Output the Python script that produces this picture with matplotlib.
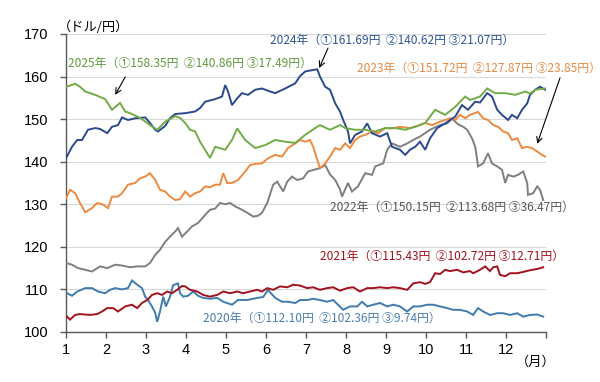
import matplotlib
matplotlib.use("Agg")
import matplotlib.pyplot as plt

# ---------------- data (x = month position, y = JPY per USD) ----------------
x_2025 = [1.0, 1.23, 1.35, 1.48, 1.73, 1.98, 2.15, 2.35, 2.48, 2.6, 2.85, 3.1, 3.28, 3.48, 3.73, 3.85, 3.98,
          4.1, 4.23, 4.35, 4.6, 4.73, 4.98, 5.15, 5.28, 5.48, 5.73, 5.98, 6.23, 6.48, 6.73, 6.98, 7.23, 7.35,
          7.6, 7.85, 7.98, 8.23, 8.48, 8.73, 8.98, 9.23, 9.48, 9.73, 9.98, 10.23, 10.48, 10.73, 10.98, 11.1,
          11.35, 11.53, 11.73, 11.98, 12.23, 12.48, 12.6, 12.73, 12.98]
y_2025 = [157.6, 158.3, 157.6, 156.5, 155.7, 154.7, 152.2, 153.8, 151.8, 151.4, 150.3, 148.6, 147.5, 149.4,
          150.7, 150.3, 149.1, 147.5, 147.1, 144.7, 140.9, 143.5, 142.8, 145.1, 147.8, 145.1, 143.2, 143.9,
          145.1, 144.7, 144.4, 146.3, 147.9, 148.6, 147.5, 148.6, 147.9, 147.5, 147.5, 147.1, 147.9, 147.9,
          147.5, 148.2, 149.1, 152.2, 151.0, 152.9, 155.3, 154.5, 155.3, 157.2, 156.1, 156.1, 155.7, 156.5,
          156.0, 156.9, 157.2]

x_2024 = [1.0, 1.15, 1.28, 1.4, 1.55, 1.73, 1.85, 2.03, 2.15, 2.3, 2.4, 2.55, 2.73, 2.98, 3.1, 3.23, 3.3, 3.48,
          3.6, 3.73, 3.98, 4.23, 4.35, 4.48, 4.73, 4.9, 4.98, 5.05, 5.15, 5.28, 5.4, 5.55, 5.73, 5.9, 6.1,
          6.23, 6.48, 6.73, 6.85, 6.98, 7.15, 7.28, 7.35, 7.48, 7.6, 7.73, 7.85, 7.93, 8.05, 8.1, 8.23, 8.4,
          8.53, 8.65, 8.85, 9.03, 9.15, 9.35, 9.48, 9.6, 9.73, 9.85, 9.98, 10.1, 10.28, 10.48, 10.73, 10.9,
          11.05, 11.23, 11.35, 11.53, 11.65, 11.78, 11.9, 12.05, 12.15, 12.28, 12.4, 12.53, 12.6, 12.73,
          12.85, 12.98]
y_2024 = [140.8, 143.5, 145.1, 145.1, 147.5, 147.9, 147.7, 146.7, 148.2, 148.6, 150.4, 149.8, 150.2, 150.4,
          149.1, 147.5, 147.1, 148.4, 150.2, 151.2, 151.4, 151.8, 152.6, 154.1, 154.7, 155.3, 158.0, 156.5,
          153.3, 154.9, 156.1, 155.7, 156.9, 157.2, 156.5, 156.1, 157.2, 158.4, 160.1, 161.2, 161.5, 161.7,
          160.0, 157.6, 156.9, 153.7, 151.8, 149.8, 147.1, 144.3, 146.3, 147.1, 149.0, 146.7, 145.9, 146.7,
          143.5, 142.8, 141.6, 142.8, 143.5, 144.7, 142.8, 145.5, 147.9, 149.0, 150.6, 153.3, 152.2, 154.1,
          153.9, 156.1, 155.3, 152.2, 151.0, 149.8, 151.0, 150.2, 152.2, 153.7, 155.7, 156.9, 157.6, 156.9]

x_2023 = [1.0, 1.1, 1.23, 1.35, 1.48, 1.65, 1.78, 1.93, 2.05, 2.15, 2.3, 2.4, 2.55, 2.73, 2.85, 2.98, 3.1,
          3.23, 3.35, 3.48, 3.6, 3.73, 3.85, 3.98, 4.1, 4.23, 4.35, 4.48, 4.6, 4.73, 4.85, 4.93, 5.03, 5.15,
          5.3, 5.48, 5.6, 5.73, 5.9, 6.05, 6.23, 6.4, 6.55, 6.73, 6.85, 6.98, 7.1, 7.18, 7.28, 7.35, 7.48,
          7.6, 7.73, 7.85, 7.98, 8.1, 8.23, 8.35, 8.48, 8.65, 8.8, 8.98, 9.15, 9.35, 9.6, 9.85, 9.98, 10.15,
          10.35, 10.48, 10.6, 10.73, 10.85, 10.98, 11.1, 11.3, 11.43, 11.55, 11.68, 11.8, 11.93, 12.05,
          12.15, 12.28, 12.4, 12.53, 12.65, 12.78, 12.9, 12.98]
y_2023 = [131.4, 133.4, 132.6, 130.3, 128.1, 129.1, 130.3, 129.9, 129.1, 131.8, 131.8, 132.6, 134.6, 135.0,
          136.1, 136.5, 137.3, 135.7, 133.4, 133.0, 131.8, 131.0, 131.2, 133.0, 131.8, 132.6, 133.0, 134.2,
          134.0, 134.6, 134.6, 137.3, 135.0, 135.0, 135.7, 137.7, 139.2, 139.5, 139.6, 140.8, 141.6, 141.2,
          143.2, 144.3, 145.1, 144.7, 145.1, 143.5, 140.5, 138.5, 139.6, 141.2, 143.2, 142.8, 144.3, 143.2,
          145.1, 145.9, 146.3, 147.1, 146.7, 147.9, 147.8, 148.2, 147.9, 148.6, 149.1, 148.6, 149.4, 149.8,
          150.2, 149.8, 151.0, 150.2, 151.0, 151.7, 150.2, 149.8, 148.6, 148.2, 147.1, 146.7, 145.1, 145.5,
          143.2, 143.5, 143.2, 142.4, 141.6, 141.2]

x_2022 = [1.0, 1.15, 1.3, 1.48, 1.65, 1.85, 2.03, 2.23, 2.4, 2.6, 2.78, 2.98, 3.1, 3.23, 3.35, 3.48, 3.6,
          3.73, 3.8, 3.9, 4.03, 4.15, 4.3, 4.48, 4.6, 4.73, 4.85, 4.98, 5.1, 5.23, 5.4, 5.55, 5.68, 5.8, 5.9,
          6.03, 6.18, 6.28, 6.43, 6.53, 6.65, 6.78, 6.93, 7.05, 7.35, 7.48, 7.6, 7.73, 7.85, 7.9, 8.05, 8.15,
          8.3, 8.48, 8.65, 8.73, 8.93, 9.03, 9.15, 9.35, 9.53, 9.68, 9.85, 10.1, 10.35, 10.53, 10.65, 10.8,
          10.93, 11.03, 11.15, 11.23, 11.28, 11.3, 11.43, 11.55, 11.65, 11.78, 11.9, 11.98, 12.05, 12.18,
          12.3, 12.43, 12.53, 12.55, 12.68, 12.78, 12.85, 12.93]
y_2022 = [116.2, 115.8, 115.0, 114.6, 114.2, 115.4, 115.0, 115.8, 115.6, 115.2, 115.4, 115.4, 116.2, 118.1,
          119.3, 121.2, 122.4, 123.6, 124.4, 122.4, 123.6, 124.8, 125.6, 127.5, 128.7, 129.0, 130.3, 130.0,
          130.3, 129.5, 128.7, 127.9, 127.1, 127.3, 128.0, 130.3, 134.6, 135.3, 133.0, 135.3, 136.5, 135.7,
          136.1, 137.7, 138.5, 139.2, 137.0, 135.7, 133.5, 131.8, 135.0, 133.0, 134.2, 137.3, 136.9, 138.9,
          139.6, 142.8, 144.3, 143.5, 144.3, 145.1, 145.9, 147.5, 148.6, 149.0, 150.1, 148.8, 148.2, 147.5,
          145.5, 143.5, 140.4, 138.9, 139.6, 142.0, 139.6, 138.9, 138.1, 135.0, 136.9, 136.5, 136.9, 137.7,
          135.0, 132.2, 132.6, 134.2, 133.4, 131.0]

x_2021 = [1.03, 1.1, 1.23, 1.35, 1.6, 1.78, 1.9, 2.03, 2.18, 2.3, 2.48, 2.65, 2.78, 2.9, 3.03, 3.15, 3.28,
          3.4, 3.53, 3.65, 3.78, 3.9, 3.98, 4.1, 4.28, 4.43, 4.6, 4.78, 4.93, 5.1, 5.28, 5.43, 5.6, 5.78,
          5.9, 6.03, 6.18, 6.35, 6.53, 6.68, 6.85, 7.03, 7.18, 7.35, 7.53, 7.68, 7.85, 8.03, 8.18, 8.35,
          8.53, 8.68, 8.85, 9.03, 9.18, 9.35, 9.53, 9.68, 9.85, 9.98, 10.1, 10.23, 10.35, 10.48, 10.6,
          10.78, 10.93, 11.1, 11.18, 11.35, 11.48, 11.6, 11.68, 11.78, 11.85, 11.98, 12.1, 12.28, 12.43,
          12.6, 12.78, 12.93]
y_2021 = [103.6, 102.9, 104.0, 104.2, 104.0, 104.2, 104.8, 105.6, 105.6, 104.8, 106.0, 106.4, 105.6, 106.8,
          107.5, 108.7, 109.1, 108.7, 109.5, 109.1, 109.9, 110.8, 110.7, 109.9, 109.5, 108.7, 108.3, 108.7,
          109.5, 109.1, 109.5, 109.1, 109.5, 109.9, 109.5, 110.3, 109.9, 110.7, 110.5, 111.1, 110.9, 110.3,
          110.5, 109.9, 110.3, 110.5, 109.7, 110.3, 110.5, 109.5, 110.3, 110.3, 110.5, 110.3, 110.5, 110.3,
          109.9, 111.4, 111.7, 111.3, 111.7, 113.8, 113.6, 114.6, 114.3, 114.6, 114.0, 114.3, 113.8, 114.6,
          115.4, 114.3, 115.2, 115.4, 113.4, 113.1, 113.8, 113.8, 114.1, 114.5, 114.8, 115.2]

x_2020 = [1.03, 1.15, 1.28, 1.48, 1.65, 1.8, 1.98, 2.1, 2.23, 2.4, 2.55, 2.65, 2.78, 2.9, 2.98, 3.05, 3.15,
          3.23, 3.28, 3.35, 3.43, 3.5, 3.6, 3.68, 3.8, 3.85, 3.93, 4.05, 4.18, 4.3, 4.43, 4.6, 4.78, 4.93,
          5.15, 5.3, 5.53, 5.78, 5.93, 6.05, 6.23, 6.4, 6.55, 6.73, 6.85, 7.03, 7.18, 7.35, 7.53, 7.68, 7.8,
          7.93, 8.1, 8.28, 8.4, 8.53, 8.68, 8.85, 9.03, 9.18, 9.35, 9.53, 9.68, 9.85, 10.03, 10.18, 10.35,
          10.53, 10.68, 10.85, 11.03, 11.18, 11.3, 11.43, 11.6, 11.78, 11.93, 12.1, 12.28, 12.43, 12.6,
          12.78, 12.93]
y_2020 = [109.1, 108.5, 109.5, 110.3, 110.3, 109.5, 109.1, 109.9, 110.3, 110.0, 110.3, 112.1, 111.1, 110.3,
          108.3, 107.5, 106.0, 104.5, 102.4, 104.8, 108.3, 106.0, 108.3, 111.0, 111.4, 109.1, 108.3, 108.5,
          109.5, 108.5, 108.0, 107.8, 108.0, 107.1, 106.4, 107.5, 107.5, 108.0, 108.2, 109.9, 108.0, 107.1,
          107.1, 106.8, 107.5, 107.5, 107.8, 107.5, 107.1, 107.5, 106.4, 105.2, 106.0, 106.0, 107.1, 106.0,
          106.4, 106.8, 106.0, 106.4, 106.0, 104.8, 106.0, 106.0, 106.4, 106.4, 106.0, 105.6, 105.2, 105.2,
          104.8, 104.0, 105.6, 104.8, 104.0, 104.4, 104.4, 104.0, 104.4, 103.6, 104.0, 104.1, 103.6]

labels = {
    "2020": "2020年（①112.10円  ②102.36円 ③9.74円）",
    "2021": "2021年（①115.43円  ②102.72円 ③12.71円）",
    "2022": "2022年（①150.15円  ②113.68円 ③36.47円）",
    "2023": "2023年（①151.72円  ②127.87円 ③23.85円）",
    "2024": "2024年（①161.69円  ②140.62円 ③21.07円）",
    "2025": "2025年（①158.35円  ②140.86円 ③17.49円）",
}
month_ticks = list(range(1, 13))
y_ticks = [100, 110, 120, 130, 140, 150, 160, 170]

# ---------------- styling ----------------
line_colors = {"2020": "#3f7bae", "2021": "#a3121f", "2022": "#7f7f7f",
               "2023": "#ed8a3f", "2024": "#2b4a8c", "2025": "#72ab48"}
text_colors = {"2020": "#4a7fae", "2021": "#a3121f", "2022": "#555555",
               "2023": "#e58a45", "2024": "#2f5597", "2025": "#5f9a3c"}

jp = ["Noto Sans CJK JP", "DejaVu Sans"]

fig = plt.figure(figsize=(6.0, 3.82), dpi=100)
ax = fig.add_axes([0.11, 0.131, 0.80, 0.780])

series = [("2020", x_2020, y_2020), ("2021", x_2021, y_2021), ("2022", x_2022, y_2022),
          ("2023", x_2023, y_2023), ("2024", x_2024, y_2024), ("2025", x_2025, y_2025)]
for key, xs, ys in series:
    ax.plot(xs, ys, color=line_colors[key], lw=1.4, solid_joinstyle="miter", zorder=3)

ax.set_xlim(1, 13)
ax.set_ylim(100, 170)
ax.set_yticks(y_ticks)
ax.set_xticks(list(range(1, 14)))
ax.set_xticklabels([str(m) for m in month_ticks] + [""])
ax.grid(axis="y", color="#d9d9d9", lw=0.8)
ax.set_axisbelow(True)
for s in ["top", "right"]:
    ax.spines[s].set_visible(False)
for s in ["left", "bottom"]:
    ax.spines[s].set_color("#595959")
    ax.spines[s].set_linewidth(1.0)
ax.tick_params(axis="both", direction="out", length=4, width=1.0, color="#595959",
               labelsize=10.5, labelcolor="#000000")
ax.tick_params(axis="y", pad=8.5)
ax.tick_params(axis="x", pad=4)
for lab in ax.get_xticklabels() + ax.get_yticklabels():
    lab.set_family(["Liberation Sans", "DejaVu Sans"])

# unit labels
fig.text(0.097, 0.929, "（ドル/円）", family=jp, fontsize=9.5, ha="left", va="center")
fig.text(0.859, 0.052, "（月）", family=jp, fontsize=9.5, ha="left", va="center")

# series annotations
label_pos = {"2024": (6.1, 168.4), "2025": (1.05, 163.2), "2023": (8.28, 161.9),
             "2022": (7.6, 129.2), "2021": (7.35, 117.7), "2020": (4.43, 103.3)}
for key, (lx, ly) in label_pos.items():
    ax.text(lx, ly, labels[key], color=text_colors[key], family=jp, fontsize=8.6,
            ha="left", va="center", zorder=5, clip_on=False)

arrow_kw = dict(arrowstyle="->", color="#000000", lw=0.8, shrinkA=0, shrinkB=0)
ax.annotate("", xy=(2.23, 155.7), xytext=(2.48, 159.9), arrowprops=arrow_kw, annotation_clip=False)
ax.annotate("", xy=(7.33, 162.0), xytext=(7.55, 166.7), arrowprops=arrow_kw, annotation_clip=False)
ax.annotate("", xy=(12.78, 144.2), xytext=(13.35, 159.7), arrowprops=arrow_kw, annotation_clip=False)

fig.savefig("out.png", dpi=100)
